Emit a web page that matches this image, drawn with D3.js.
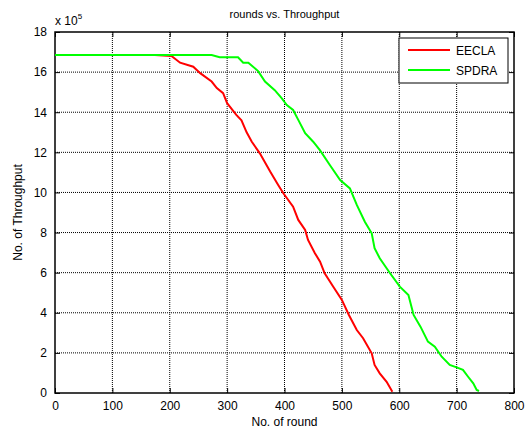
<!DOCTYPE html>
<html>
<head>
<meta charset="utf-8">
<script src="https://cdn.jsdelivr.net/npm/d3@7"></script>
<style>
  body { margin: 0; background: #fff; }
  text { font-family: "Liberation Sans", Arial, sans-serif; fill: #000; }
</style>
</head>
<body>
<div id="chart"></div>
<script>
// values (y in units of 1e5)
var eeclaRound = [0, 174, 203, 218, 241, 253, 273, 282, 293, 300, 316, 325, 334, 343, 357, 375, 389, 398, 415, 424, 436, 441, 453, 462, 470, 485, 500, 512, 526, 537, 552, 557, 566, 578, 588];
var eeclaThr   = [16.85, 16.85, 16.8, 16.47, 16.27, 15.95, 15.53, 15.2, 14.95, 14.45, 13.87, 13.6, 13.0, 12.53, 11.95, 11.04, 10.37, 9.96, 9.29, 8.63, 8.13, 7.63, 6.97, 6.55, 5.97, 5.3, 4.64, 3.9, 3.14, 2.73, 1.98, 1.4, 0.98, 0.56, 0.06];

var spdraRound = [0, 273, 287, 319, 328, 337, 354, 366, 383, 395, 404, 415, 424, 436, 450, 462, 479, 497, 514, 526, 540, 552, 557, 566, 584, 601, 616, 625, 637, 650, 662, 674, 688, 700, 711, 720, 729, 735, 739];
var spdraThr   = [16.85, 16.85, 16.74, 16.74, 16.47, 16.47, 16.05, 15.53, 15.1, 14.7, 14.36, 14.11, 13.62, 12.95, 12.53, 12.1, 11.37, 10.62, 10.2, 9.38, 8.54, 7.96, 7.22, 6.72, 5.97, 5.3, 4.89, 3.89, 3.31, 2.56, 2.31, 1.81, 1.4, 1.28, 1.15, 0.81, 0.48, 0.15, 0.1];

var xTicks = [0, 100, 200, 300, 400, 500, 600, 700, 800];
var yTicks = [0, 2, 4, 6, 8, 10, 12, 14, 16, 18];
var seriesNames = ["EECLA", "SPDRA"];
var seriesColors = ["#ff0000", "#00ff00"];

var W = 528, H = 433;
var pLeft = 55, pRight = 514, pTop = 32, pBottom = 393;

var svg = d3.select("#chart")
    .append("svg")
    .attr("width", W)
    .attr("height", H);

var x = d3.scaleLinear().domain([0, 800]).range([pLeft, pRight]);
var y = d3.scaleLinear().domain([0, 18]).range([pBottom, pTop]);

// grid
var grid = svg.append("g")
grid.selectAll("line.gx")
    .data(xTicks.slice(1, -1))
    .enter()
    .append("line")
    .attr("x1", d => x(d)).attr("x2", d => x(d))
    .attr("y1", pTop).attr("y2", pBottom)
    .style("stroke", "#000")
    .style("stroke-width", 1)
    .style("stroke-dasharray", "1,1")
grid.selectAll("line.gy")
    .data(yTicks.slice(1, -1))
    .enter()
    .append("line")
    .attr("x1", pLeft).attr("x2", pRight)
    .attr("y1", d => y(d)).attr("y2", d => y(d))
    .style("stroke", "#000")
    .style("stroke-width", 1)
    .style("stroke-dasharray", "1,1")

// axes with inward ticks
svg.append("g")
    .attr("transform", "translate(0," + pBottom + ")")
    .call(d3.axisBottom(x).tickValues(xTicks).tickSize(-5).tickPadding(8))
svg.append("g")
    .attr("transform", "translate(0," + pTop + ")")
    .call(d3.axisTop(x).tickValues(xTicks).tickSize(-5).tickFormat(""))
svg.append("g")
    .attr("transform", "translate(" + pLeft + ",0)")
    .call(d3.axisLeft(y).tickValues(yTicks).tickSize(-5).tickPadding(8))
svg.append("g")
    .attr("transform", "translate(" + pRight + ",0)")
    .call(d3.axisRight(y).tickValues(yTicks).tickSize(-5).tickFormat(""))

svg.selectAll(".tick text")
    .style("font-size", "12px")
    .style("font-family", "Liberation Sans, Arial, sans-serif")
svg.selectAll(".domain").remove()

svg.append("rect")
    .attr("x", pLeft).attr("y", pTop)
    .attr("width", pRight - pLeft).attr("height", pBottom - pTop)
    .style("fill", "none")
    .style("stroke", "#000")
    .style("stroke-width", 1.5)

// lines
var line = d3.line()
    .x(d => x(d[0]))
    .y(d => y(d[1]))

var series = [
    d3.zip(eeclaRound, eeclaThr),
    d3.zip(spdraRound, spdraThr)
]

svg.append("g")
    .selectAll("path")
    .data(series)
    .enter()
    .append("path")
    .attr("d", line)
    .style("fill", "none")
    .style("stroke", (d, i) => seriesColors[i])
    .style("stroke-width", 2)

// legend
var legend = svg.append("g")
legend.append("rect")
    .attr("x", 399).attr("y", 38)
    .attr("width", 109).attr("height", 45)
    .style("fill", "#fff")
    .style("stroke", "#000")
    .style("stroke-width", 1)
seriesNames.forEach(function(name, i){
    var ly = 50 + i * 20;
    legend.append("line")
        .attr("x1", 408).attr("x2", 450)
        .attr("y1", ly).attr("y2", ly)
        .style("stroke", seriesColors[i])
        .style("stroke-width", 2)
    legend.append("text")
        .attr("x", 456).attr("y", ly + 4.5)
        .style("font-size", "12px")
        .text(name)
})

// titles
svg.append("text")
    .attr("x", (pLeft + pRight) / 2).attr("y", 18)
    .attr("text-anchor", "middle")
    .style("font-size", "11px")
    .text("rounds vs. Throughput")

svg.append("text")
    .attr("x", (pLeft + pRight) / 2).attr("y", 426)
    .attr("text-anchor", "middle")
    .style("font-size", "12px")
    .text("No. of round")

svg.append("text")
    .attr("transform", "translate(22," + ((pTop + pBottom) / 2) + ") rotate(-90)")
    .attr("text-anchor", "middle")
    .style("font-size", "12px")
    .text("No. of Throughput")

var exp = svg.append("text")
    .attr("x", 55).attr("y", 25)
    .style("font-size", "12px")
exp.append("tspan").text("x 10")
exp.append("tspan")
    .attr("dy", -6)
    .style("font-size", "8px")
    .text("5")
</script>
</body>
</html>
